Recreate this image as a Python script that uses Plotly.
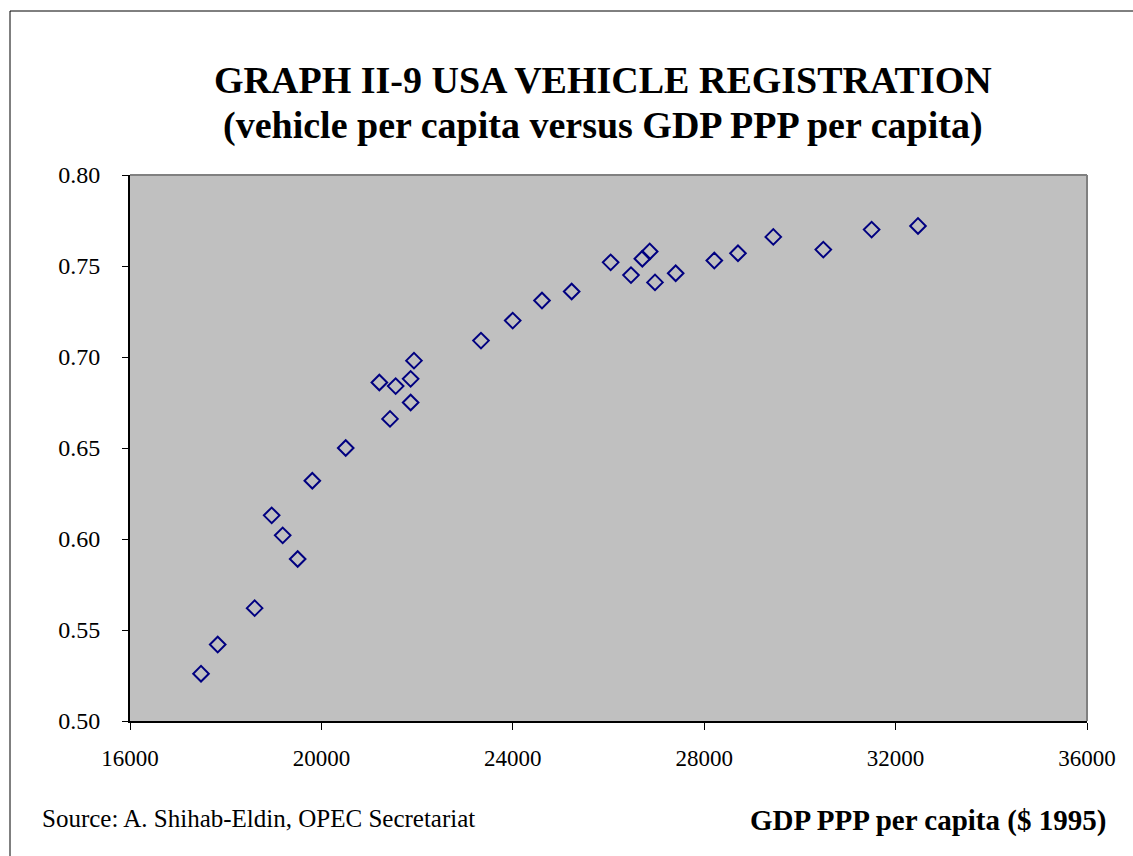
import plotly.graph_objects as go

# GDP PPP per capita ($ 1995) and vehicles per capita, USA
gdp = [17484, 17833, 18605, 18961, 19191, 19504, 19810, 20508, 21211, 21434,
       21552, 21865, 21865, 21935, 23335, 23998, 24610, 25230, 26045, 26470,
       26707, 26861, 26972, 27404, 28211, 28706, 29444, 30489, 31499, 32468]
vehicles = [0.526, 0.542, 0.562, 0.613, 0.602, 0.589, 0.632, 0.650, 0.686, 0.666,
            0.684, 0.688, 0.675, 0.698, 0.709, 0.720, 0.731, 0.736, 0.752, 0.745,
            0.754, 0.758, 0.741, 0.746, 0.753, 0.757, 0.766, 0.759, 0.770, 0.772]

x_ticks = [16000, 20000, 24000, 28000, 32000, 36000]
y_ticks = [0.50, 0.55, 0.60, 0.65, 0.70, 0.75, 0.80]

W, H = 1133, 856
L, R, T, B = 130, 46, 175, 135
PW, PH = W - L - R, H - T - B
serif = 'Liberation Serif'


def px_x(p):
    return (p - L) / PW


def px_y(p):
    return (H - B - p) / PH


fig = go.Figure()
fig.add_trace(go.Scatter(
    x=gdp, y=vehicles, mode='markers',
    marker=dict(symbol='diamond-open', size=12, color='#000080',
                line=dict(width=2, color='#000080')),
    showlegend=False,
))

fig.update_layout(
    width=W, height=H,
    margin=dict(l=L, r=R, t=T, b=B),
    paper_bgcolor='white',
    plot_bgcolor='#C0C0C0',
    font=dict(family=serif, size=20, color='black'),
)

fig.update_xaxes(
    range=[16000, 36000], tickvals=x_ticks, ticktext=[str(v) for v in x_ticks],
    showgrid=False, zeroline=False, showline=True, linecolor='black', linewidth=2,
    ticks='outside', ticklen=7, tickcolor='black', tickwidth=1,
    tickfont=dict(size=23), ticklabelstandoff=8,
)
fig.update_yaxes(
    range=[0.50, 0.80], tickvals=y_ticks, ticktext=['%.2f' % v for v in y_ticks],
    showgrid=False, zeroline=False, showline=True, linecolor='black', linewidth=2,
    ticks='outside', ticklen=6, tickcolor='black', tickwidth=1,
    tickfont=dict(size=24), ticklabelstandoff=17,
)

# gray plot-area border on top and right
fig.add_shape(type='line', xref='paper', yref='paper', x0=0, x1=1, y0=1, y1=1,
              line=dict(color='#808080', width=2))
fig.add_shape(type='line', xref='paper', yref='paper', x0=1, x1=1, y0=0, y1=1,
              line=dict(color='#808080', width=2))

# outer chart frame
fig.add_shape(type='rect', xref='paper', yref='paper',
              x0=px_x(10), x1=px_x(W + 20), y0=px_y(H + 20), y1=px_y(11),
              line=dict(color='black', width=1), layer='below')

# title, two lines
fig.add_annotation(text='<b>GRAPH II-9 USA VEHICLE REGISTRATION</b>',
                   xref='paper', yref='paper', x=px_x(603), y=px_y(80),
                   xanchor='center', yanchor='middle', showarrow=False,
                   font=dict(family=serif, size=38, color='black'))
fig.add_annotation(text='<b>(vehicle per capita versus GDP PPP per capita)</b>',
                   xref='paper', yref='paper', x=px_x(603), y=px_y(125),
                   xanchor='center', yanchor='middle', showarrow=False,
                   font=dict(family=serif, size=38, color='black'))

fig.add_annotation(
    text='Source: A. Shihab-Eldin, OPEC Secretariat',
    xref='paper', yref='paper', x=px_x(40), xanchor='left',
    y=px_y(818), yanchor='middle',
    showarrow=False, font=dict(family=serif, size=25, color='black'),
)
fig.add_annotation(
    text='<b>GDP PPP per capita ($ 1995)</b>',
    xref='paper', yref='paper', x=px_x(1108), xanchor='right',
    y=px_y(820), yanchor='middle',
    showarrow=False, font=dict(family=serif, size=29, color='black'),
)

fig.write_html('out.html', config={'displayModeBar': False},
               post_script="document.body.style.margin='0';")
